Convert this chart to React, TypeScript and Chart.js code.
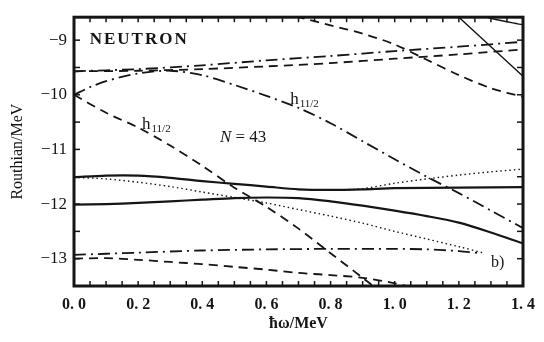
import React, { useEffect, useRef } from 'react';
import { Chart, registerables } from 'chart.js';

Chart.register(...registerables);

// ---- axes ----
const xTicks = [0, 0.2, 0.4, 0.6, 0.8, 1.0, 1.2, 1.4];
const xTickLabels = ['0. 0', '0. 2', '0. 4', '0. 6', '0. 8', '1. 0', '1. 2', '1. 4'];
const yTicks = [-13, -12, -11, -10, -9];
const yTickLabels = ['−13', '−12', '−11', '−10', '−9'];
const xMin = 0;
const xMax = 1.4;
const yMin = -13.5;
const yMax = -8.58;

// ---- curves (ħω in MeV, Routhian in MeV) ----
// dash-dot h11/2 (upper, bending down)
const h11aX = [0, 0.05, 0.1, 0.2, 0.3, 0.4, 0.5, 0.6, 0.7, 0.8, 0.9, 1.0, 1.1, 1.2, 1.3, 1.4];
const h11aY = [-10.0, -9.86, -9.75, -9.61, -9.56, -9.64, -9.82, -10.02, -10.24, -10.52, -10.85, -11.18, -11.5, -11.8, -12.12, -12.44];
// dashed h11/2 (lower, steep)
const h11bX = [0, 0.1, 0.2, 0.3, 0.4, 0.5, 0.6, 0.7, 0.8, 0.9, 0.95];
const h11bY = [-10.0, -10.33, -10.6, -10.93, -11.3, -11.7, -12.05, -12.45, -12.9, -13.35, -13.58];
// dash-dot near -9.5
const upDashDotX = [0, 0.2, 0.4, 0.6, 0.8, 1.0, 1.2, 1.4];
const upDashDotY = [-9.57, -9.53, -9.46, -9.37, -9.29, -9.2, -9.12, -9.03];
// dashed near -9.5
const upDashX = [0, 0.2, 0.4, 0.6, 0.8, 1.0, 1.2, 1.4];
const upDashY = [-9.57, -9.56, -9.53, -9.48, -9.42, -9.34, -9.26, -9.17];
// dashed from top, descending
const topDashX = [0.6, 0.7, 0.8, 0.9, 1.0, 1.1, 1.2, 1.3, 1.4];
const topDashY = [-8.45, -8.58, -8.73, -8.88, -9.08, -9.36, -9.64, -9.88, -10.04];
// solid steep, top right
const steepSolidX = [1.15, 1.2, 1.3, 1.4];
const steepSolidY = [-8.32, -8.58, -9.12, -9.66];
// solid, top right corner
const cornerSolidX = [1.25, 1.3, 1.4];
const cornerSolidY = [-8.5, -8.6, -8.72];
// solid upper ~ -11.5
const solidUpX = [0, 0.1, 0.2, 0.3, 0.4, 0.5, 0.6, 0.7, 0.8, 0.9, 1.0, 1.2, 1.4];
const solidUpY = [-11.51, -11.48, -11.48, -11.52, -11.58, -11.63, -11.68, -11.73, -11.74, -11.73, -11.71, -11.7, -11.69];
// solid lower ~ -12
const solidLowX = [0, 0.1, 0.2, 0.3, 0.4, 0.5, 0.6, 0.7, 0.8, 0.9, 1.0, 1.1, 1.2, 1.3, 1.4];
const solidLowY = [-12.01, -12.0, -11.98, -11.95, -11.92, -11.89, -11.88, -11.89, -11.95, -12.03, -12.12, -12.22, -12.34, -12.52, -12.72];
// dotted, descending
const dotDownX = [0, 0.1, 0.2, 0.3, 0.4, 0.5, 0.6, 0.7, 0.8, 0.9, 1.0, 1.1, 1.2, 1.28];
const dotDownY = [-11.51, -11.54, -11.6, -11.68, -11.78, -11.88, -11.98, -12.1, -12.22, -12.35, -12.5, -12.64, -12.78, -12.9];
// dotted, rising
const dotUpX = [0.8, 0.85, 0.9, 1.0, 1.1, 1.2, 1.3, 1.4];
const dotUpY = [-11.74, -11.74, -11.72, -11.62, -11.54, -11.47, -11.41, -11.36];
// dash-dot lower ~ -12.85
const lowDashDotX = [0, 0.2, 0.4, 0.6, 0.8, 1.0, 1.1, 1.2, 1.27];
const lowDashDotY = [-12.93, -12.89, -12.85, -12.83, -12.82, -12.82, -12.83, -12.86, -12.9];
// dashed lower ~ -13
const lowDashX = [0, 0.1, 0.2, 0.3, 0.4, 0.5, 0.6, 0.7, 0.8, 0.9, 1.0, 1.05];
const lowDashY = [-13.0, -12.99, -13.02, -13.06, -13.1, -13.15, -13.2, -13.26, -13.3, -13.35, -13.45, -13.52];

const INK = '#151515';
const SERIF = '"Liberation Serif", "DejaVu Serif", serif';

const DASH = [9, 6];
const DASHDOT = [12, 5, 2, 5];
const DOT = [1.5, 3];

const pts = (xs: number[], ys: number[]) => xs.map((x, i) => ({ x, y: ys[i] }));

const mk = (xs: number[], ys: number[], dash: number[], width: number) => ({
  data: pts(xs, ys),
  borderColor: INK,
  borderWidth: width,
  borderDash: dash,
  pointRadius: 0,
  tension: 0.3,
  fill: false,
  clip: 0,
});

const framePlugin = {
  id: 'frame',
  afterDraw(chart: any) {
    const { ctx, chartArea: a, scales } = chart;
    const xs = scales.x;
    const ys = scales.y;
    ctx.save();
    ctx.strokeStyle = INK;
    ctx.lineWidth = 1.5;
    const seg = (x1: number, y1: number, x2: number, y2: number) => {
      ctx.beginPath();
      ctx.moveTo(x1, y1);
      ctx.lineTo(x2, y2);
      ctx.stroke();
    };
    // x ticks every 0.05, inward on bottom and top
    for (let i = 0; i <= 28; i++) {
      const px = xs.getPixelForValue(i * 0.05);
      seg(px, a.bottom, px, a.bottom - 5);
      seg(px, a.top, px, a.top + 5);
    }
    // y ticks every 0.5, inward on left and right
    for (let i = 0; i <= 9; i++) {
      const py = ys.getPixelForValue(-13.5 + i * 0.5);
      if (py < a.top + 1) continue;
      seg(a.left, py, a.left + 6, py);
      seg(a.right, py, a.right - 6, py);
    }
    // frame
    ctx.lineWidth = 3;
    ctx.strokeRect(a.left, a.top, a.right - a.left, a.bottom - a.top);

    // annotations
    ctx.fillStyle = INK;
    ctx.textBaseline = 'alphabetic';
    ctx.textAlign = 'left';
    const X = (v: number) => xs.getPixelForValue(v);
    const Y = (v: number) => ys.getPixelForValue(v);

    ctx.font = `bold 17px ${SERIF}`;
    (ctx as any).letterSpacing = '2px';
    ctx.fillText('NEUTRON', X(0.049), Y(-9.07));
    (ctx as any).letterSpacing = '0px';

    const hLabel = (xv: number, yv: number) => {
      const x = X(xv);
      const y = Y(yv);
      ctx.font = `17px ${SERIF}`;
      ctx.fillText('h', x, y);
      const w = ctx.measureText('h').width;
      ctx.font = `11px ${SERIF}`;
      ctx.fillText('11/2', x + w + 1, y + 3);
    };
    hLabel(0.212, -10.62);
    hLabel(0.674, -10.17);

    ctx.font = `italic 17px ${SERIF}`;
    const nx = X(0.455);
    const ny = Y(-10.86);
    ctx.fillText('N', nx, ny);
    const nw = ctx.measureText('N').width;
    ctx.font = `17px ${SERIF}`;
    ctx.fillText(' = 43', nx + nw, ny);

    ctx.font = `16px ${SERIF}`;
    ctx.fillText('b)', X(1.3), Y(-13.16));
    ctx.restore();
  },
};

export default function App() {
  const ref = useRef<HTMLCanvasElement>(null);
  useEffect(() => {
    if (!ref.current) return;
    const chart = new Chart(ref.current, {
      type: 'line',
      data: {
        datasets: [
          mk(h11aX, h11aY, DASHDOT, 1.8),
          mk(h11bX, h11bY, DASH, 1.8),
          mk(upDashDotX, upDashDotY, DASHDOT, 1.8),
          mk(upDashX, upDashY, DASH, 1.8),
          mk(topDashX, topDashY, DASH, 1.8),
          mk(steepSolidX, steepSolidY, [], 1.4),
          mk(cornerSolidX, cornerSolidY, [], 1.4),
          mk(dotDownX, dotDownY, DOT, 1.4),
          mk(dotUpX, dotUpY, DOT, 1.4),
          mk(solidUpX, solidUpY, [], 2.2),
          mk(solidLowX, solidLowY, [], 2.2),
          mk(lowDashDotX, lowDashDotY, DASHDOT, 1.8),
          mk(lowDashX, lowDashY, DASH, 1.8),
        ] as any,
      },
      options: {
        animation: false,
        responsive: false,
        devicePixelRatio: 1,
        layout: { padding: { left: 0, right: 15, top: 12, bottom: 0 } },
        plugins: { legend: { display: false }, tooltip: { enabled: false } },
        scales: {
          x: {
            type: 'linear',
            min: xMin,
            max: xMax,
            grid: { display: false, drawTicks: false },
            border: { display: false },
            afterBuildTicks: (s: any) => {
              s.ticks = xTicks.map((v) => ({ value: v }));
            },
            afterFit: (s: any) => {
              s.height = 56;
            },
            ticks: {
              autoSkip: false,
              maxRotation: 0,
              padding: 9,
              color: INK,
              font: { family: SERIF, size: 16, weight: 'bold' },
              callback: (v: any) => {
                const i = xTicks.findIndex((t) => Math.abs(t - Number(v)) < 1e-6);
                return i >= 0 ? xTickLabels[i] : '';
              },
            },
            title: {
              display: true,
              text: 'ħω/MeV',
              color: INK,
              font: { family: SERIF, size: 16, weight: 'bold' },
              padding: { top: 0, bottom: 9 },
            },
          },
          y: {
            type: 'linear',
            min: yMin,
            max: yMax,
            grid: { display: false, drawTicks: false },
            border: { display: false },
            afterBuildTicks: (s: any) => {
              s.ticks = yTicks.map((v) => ({ value: v }));
            },
            afterFit: (s: any) => {
              s.width = 74;
            },
            ticks: {
              autoSkip: false,
              padding: 7,
              color: INK,
              font: { family: SERIF, size: 17 },
              callback: (v: any) => {
                const i = yTicks.findIndex((t) => Math.abs(t - Number(v)) < 1e-6);
                return i >= 0 ? yTickLabels[i] : '';
              },
            },
            title: {
              display: true,
              text: 'Routhian/MeV',
              color: INK,
              font: { family: SERIF, size: 16 },
              padding: { top: 8, bottom: 0 },
            },
          },
        },
      } as any,
      plugins: [framePlugin],
    });
    return () => chart.destroy();
  }, []);

  return (
    <div style={{ position: 'absolute', left: 0, top: 0, width: 544, height: 342, background: '#fff' }}>
      <canvas ref={ref} width={544} height={342} style={{ width: 544, height: 342, display: 'block' }} />
    </div>
  );
}
